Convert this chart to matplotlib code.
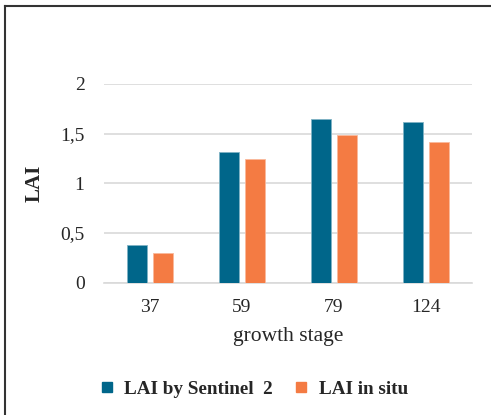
import numpy as np
import matplotlib.pyplot as plt
from matplotlib.lines import Line2D

# LAI per growth stage
stages = ['37', '59', '79', '124']
lai_sentinel = [0.38, 1.32, 1.65, 1.62]
lai_in_situ = [0.30, 1.245, 1.49, 1.42]

plt.rcParams['font.family'] = ['Liberation Serif', 'DejaVu Serif']

fig = plt.figure(figsize=(4.91, 4.15), dpi=100)
ax = fig.add_axes([0.2118, 0.3188, 0.749, 0.4788])

x = np.arange(len(stages))
w = 0.22
blue = '#00668a'
orange = '#f47b43'
ax.bar(x - 0.142, lai_sentinel, w, color=blue, edgecolor='#7fb3c4', linewidth=0.6, zorder=3)
ax.bar(x + 0.142, lai_in_situ, w, color=orange, edgecolor='#f9b99c', linewidth=0.6, zorder=3)

ax.set_xlim(-0.5, len(stages) - 0.5)
ax.set_ylim(0, 2)
ax.set_yticks([0, 0.5, 1, 1.5, 2])
ax.set_yticklabels(['0', '0,5', '1', '1,5', '2'])
ax.set_xticks(x)
ax.set_xticklabels(stages)
ax.tick_params(length=0, labelsize=14, colors='#262626')
ax.tick_params(axis='x', pad=12)
ax.tick_params(axis='y', pad=14)
ax.grid(axis='y', color='#d9d9d9', linewidth=1.2, zorder=0)
for s in ['top', 'right', 'left']:
    ax.spines[s].set_visible(False)
ax.spines['bottom'].set_color('#d9d9d9')
ax.spines['bottom'].set_linewidth(1.2)

ax.set_xlabel('growth stage', fontsize=15.5, color='#262626', labelpad=8)
ax.set_ylabel('LAI', fontsize=15, fontweight='bold', color='#262626', labelpad=11)

handles = [Line2D([], [], marker='s', linestyle='', color=blue, markersize=7.5),
           Line2D([], [], marker='s', linestyle='', color=orange, markersize=7.5)]
fig.legend(handles, ['LAI by Sentinel  2', 'LAI in situ'], loc='center',
           bbox_to_anchor=(0.518, 0.063), ncol=2, frameon=False,
           prop={'weight': 'bold', 'size': 13.8}, handlelength=0.6,
           handletextpad=0.6, columnspacing=1.2, labelcolor='#262626')

# frame on top and left edges
fig.add_artist(Line2D([0.0112, 1.0], [0.985, 0.985], color='#333333', linewidth=1.5))
fig.add_artist(Line2D([0.0112, 0.0112], [0.0, 0.985], color='#333333', linewidth=1.5))

fig.savefig('out.png', dpi=100)
